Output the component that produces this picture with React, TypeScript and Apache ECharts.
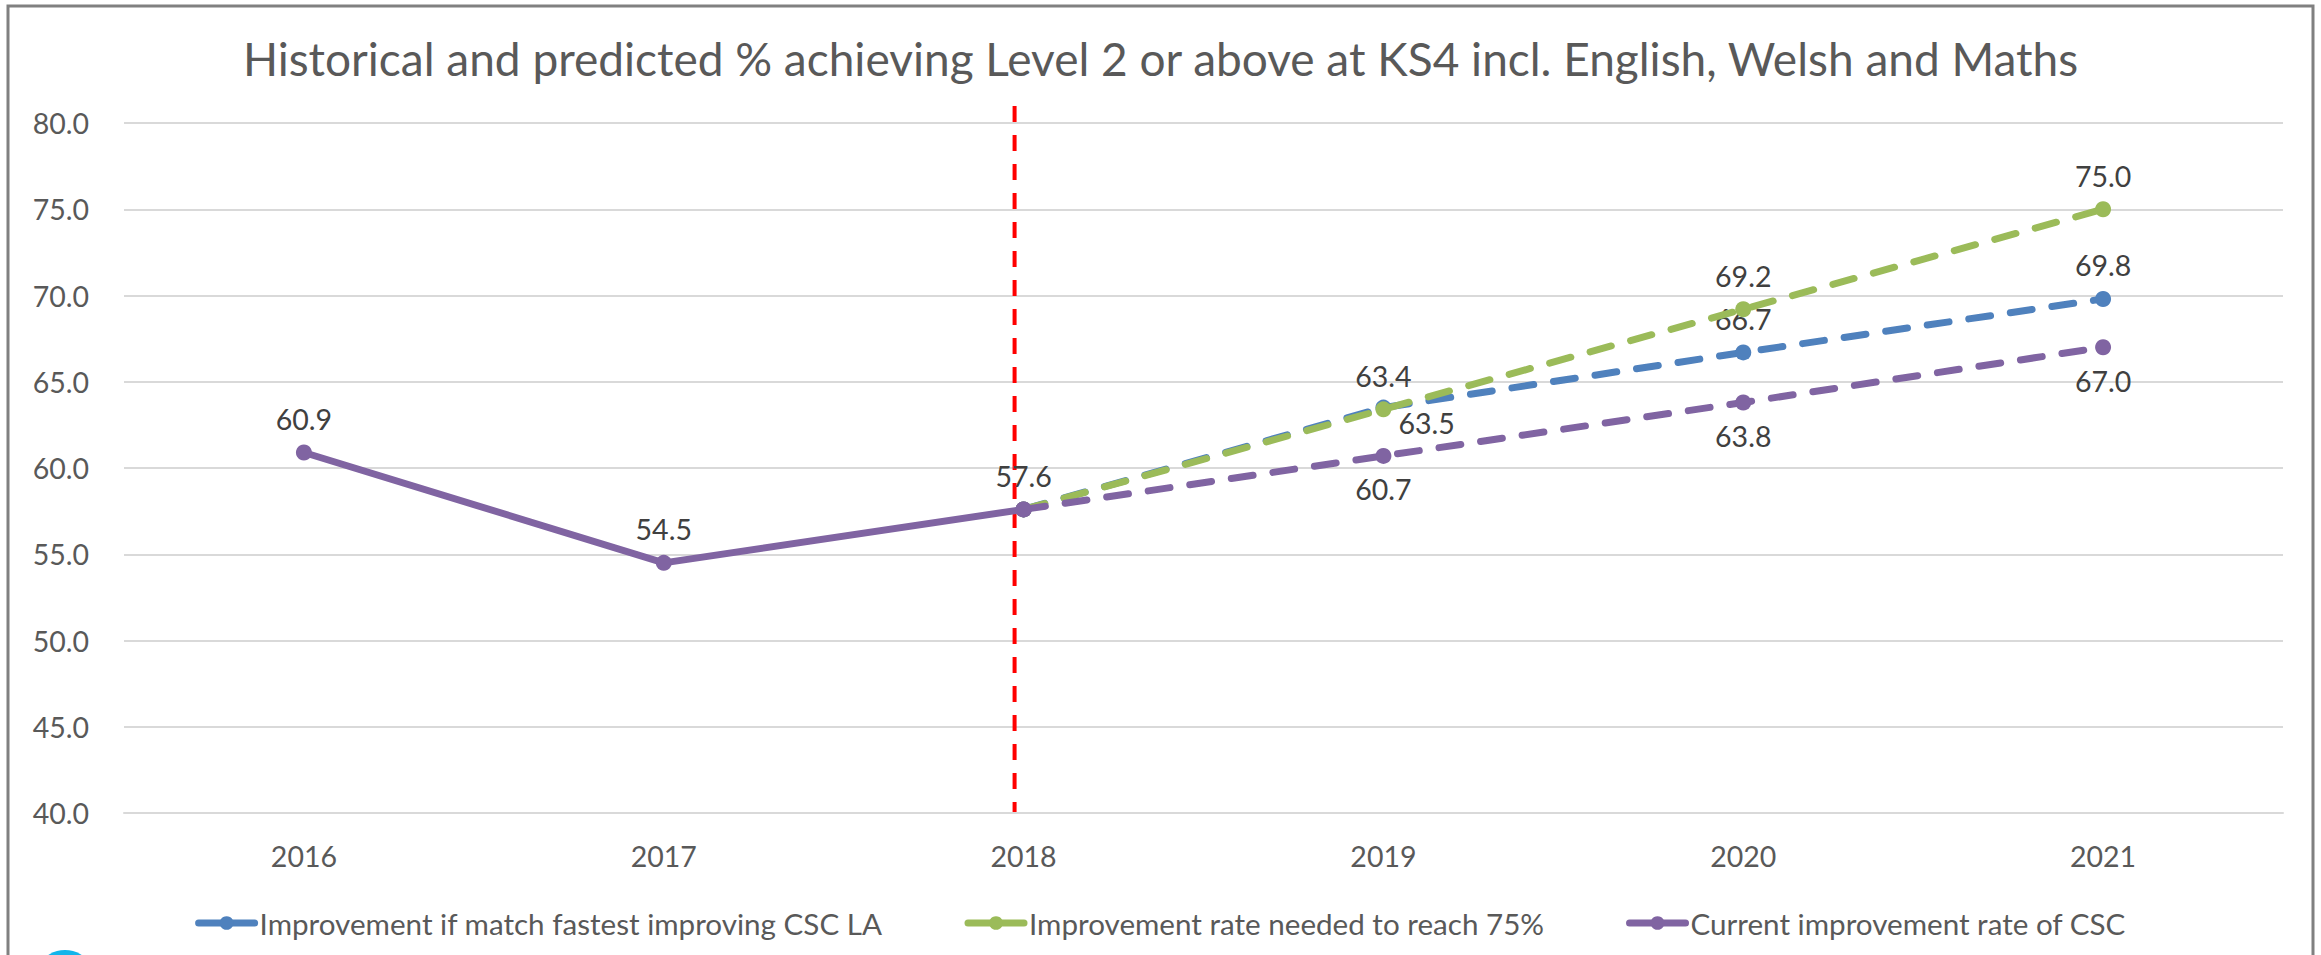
import React, { useEffect, useRef } from "react";
import * as echarts from "echarts";

const years = ["2016", "2017", "2018", "2019", "2020", "2021"];
const historical = [60.9, 54.5, 57.6, null, null, null];
const fastestLA = [null, null, 57.6, 63.5, 66.7, 69.8];
const needed75 = [null, null, 57.6, 63.4, 69.2, 75.0];
const currentRate = [null, null, 57.6, 60.7, 63.8, 67.0];
const seriesNames = [
  "Improvement if match fastest improving CSC LA",
  "Improvement rate needed to reach 75%",
  "Current improvement rate of CSC",
];
const yTicks = { min: 40, max: 80, interval: 5 };
const titleText =
  "Historical and predicted % achieving Level 2 or above at KS4 incl. English, Welsh and Maths";

const BLUE = "#4f81bd";
const GREEN = "#9bbb59";
const PURPLE = "#8064a2";
const FONT = "Lato";

export default function App() {
  const ref = useRef<HTMLDivElement>(null);
  useEffect(() => {
    if (!ref.current) return;
    const chart = echarts.init(ref.current, null, { renderer: "svg" });
    const labelFmt = (p: any) =>
      p.dataIndex === 2 || p.value == null ? "" : Number(p.value).toFixed(1);
    const dashed = (name: string, color: string, data: any[], pos: string, z: number) => ({
      name,
      type: "line",
      data,
      z,
      connectNulls: false,
      symbol: "circle",
      symbolSize: 16,
      itemStyle: { color },
      lineStyle: { color, width: 7, type: [22, 20], cap: "round" },
      label: {
        show: true,
        position: pos,
        distance: 11,
        formatter: labelFmt,
        fontFamily: FONT,
        fontSize: 28.5,
        color: "#404040",
      },
      emphasis: { disabled: true },
    });
    const blueData = fastestLA.map((v, i) =>
      i === 3 ? { value: v, label: { position: "right", distance: 7, offset: [0, 15] } } : v
    );
    chart.setOption({
      animation: false,
      backgroundColor: "#ffffff",
      title: {
        text: titleText,
        left: "center",
        top: 30,
        textStyle: { fontFamily: FONT, fontSize: 46, fontWeight: "normal", color: "#595959" },
      },
      grid: { left: 124, right: 38, top: 123, bottom: 142, outerBoundsMode: "none" },
      legend: {
        data: seriesNames,
        top: 903,
        left: "center",
        itemWidth: 56,
        itemHeight: 17,
        itemGap: 82,
        lineStyle: { type: "solid", width: 7 },
        textStyle: { fontFamily: FONT, fontSize: 29.6, color: "#595959", lineHeight: 30 },
      },
      xAxis: {
        type: "category",
        data: years,
        axisTick: { show: false },
        axisLine: { show: true, lineStyle: { color: "#d9d9d9", width: 2 } },
        axisLabel: { margin: 28, fontFamily: FONT, fontSize: 28.5, color: "#595959" },
      },
      yAxis: {
        type: "value",
        min: yTicks.min,
        max: yTicks.max,
        interval: yTicks.interval,
        axisLine: { show: false },
        axisTick: { show: false },
        splitLine: { lineStyle: { color: "#d9d9d9", width: 2 } },
        axisLabel: {
          margin: 35,
          fontFamily: FONT,
          fontSize: 28.5,
          color: "#595959",
          formatter: (v: number) => v.toFixed(1),
        },
      },
      series: [
        dashed(seriesNames[0], BLUE, blueData, "top", 2),
        dashed(seriesNames[1], GREEN, needed75, "top", 3),
        dashed(seriesNames[2], PURPLE, currentRate, "bottom", 4),
        {
          name: "Historical",
          type: "line",
          data: historical,
          z: 5,
          symbol: "circle",
          symbolSize: 16,
          itemStyle: { color: PURPLE },
          lineStyle: { color: PURPLE, width: 7 },
          label: {
            show: true,
            position: "top",
            distance: 11,
            formatter: (p: any) => Number(p.value).toFixed(1),
            fontFamily: FONT,
            fontSize: 28.5,
            color: "#404040",
          },
          emphasis: { disabled: true },
        },
      ],
    });
    const x2018 = chart.convertToPixel({ xAxisIndex: 0 }, "2018") as number;
    const yTop = chart.convertToPixel({ yAxisIndex: 0 }, yTicks.max) as number;
    const yBottom = chart.convertToPixel({ yAxisIndex: 0 }, yTicks.min) as number;
    chart.setOption({
      graphic: [
        {
          type: "rect",
          z: -10,
          shape: { x: 8, y: 6, width: 2305, height: 1000 },
          style: { fill: "none", stroke: "#808080", lineWidth: 3 },
          silent: true,
        },
        {
          type: "line",
          z: 0,
          shape: { x1: x2018 - 9, y1: yTop - 17, x2: x2018 - 9, y2: yBottom },
          style: { stroke: "#ff0000", lineWidth: 4, lineDash: [16, 13] },
          silent: true,
        },
        {
          type: "circle",
          shape: { cx: 65, cy: 981, r: 31 },
          style: { fill: "#13b5ea" },
          silent: true,
        },
      ],
    });
    return () => chart.dispose();
  }, []);
  return (
    <div
      ref={ref}
      style={{ position: "absolute", left: 0, top: 0, width: 2321, height: 955, background: "#fff" }}
    />
  );
}
